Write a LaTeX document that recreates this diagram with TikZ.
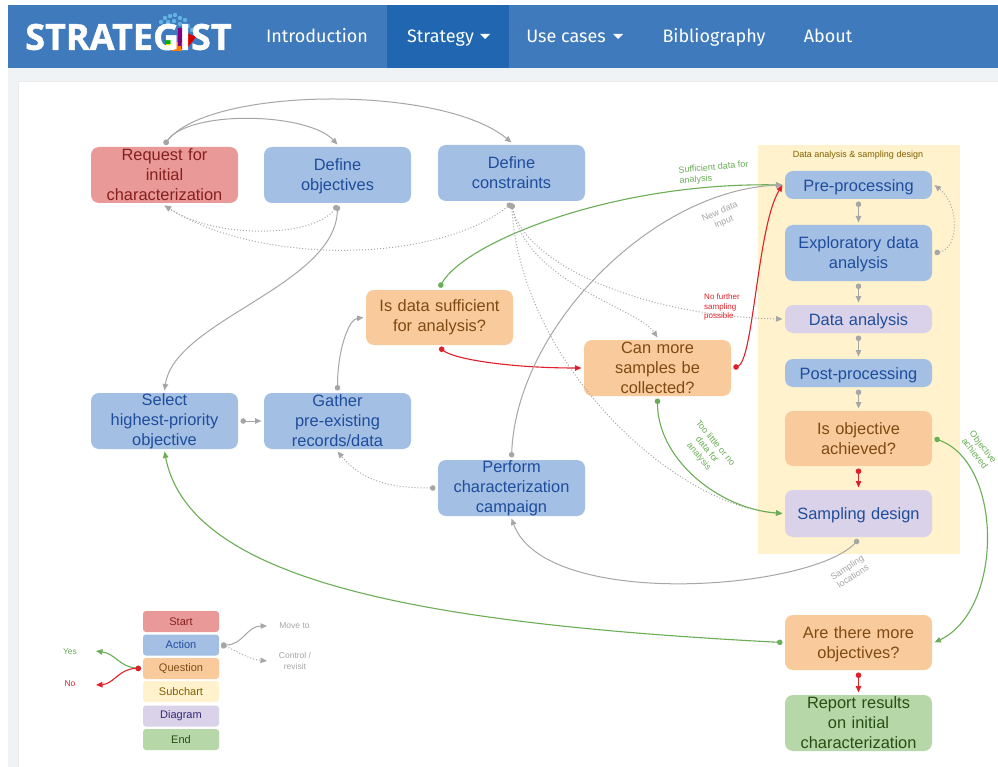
\documentclass[tikz,border=0pt]{standalone}
\usepackage{fontspec}
\setmainfont{Liberation Sans}
\newfontfamily\navfont{Fira Sans}
\newfontfamily\logofont[BoldFeatures={FakeBold=1.2}]{Open Sans}
\usetikzlibrary{arrows.meta,calc}
\definecolor{navblue}{HTML}{3F7ABD}
\definecolor{navdark}{HTML}{2066B1}
\definecolor{pagebg}{HTML}{F0F3F5}
\definecolor{redfill}{HTML}{EA9999}
\definecolor{bluefill}{HTML}{A4BFE4}
\definecolor{orangefill}{HTML}{F9CB9C}
\definecolor{yellowfill}{HTML}{FFF2CC}
\definecolor{purplefill}{HTML}{D9D2E9}
\definecolor{greenfill}{HTML}{B6D7A8}
\definecolor{redtext}{HTML}{85201F}
\definecolor{bluetext}{HTML}{1F4D9B}
\definecolor{orangetext}{HTML}{7F4A12}
\definecolor{yellowtext}{HTML}{7F6000}
\definecolor{purpletext}{HTML}{352A73}
\definecolor{greentext}{HTML}{274E13}
\definecolor{lnkgray}{HTML}{A6A6A6}
\definecolor{lnkgreen}{HTML}{6AAE56}
\definecolor{lnkred}{HTML}{E0202A}
\newcommand\nudge{\rule{0pt}{15pt}}
\newcommand\nudgeb{\rule{0pt}{17pt}}
\tikzset{
  x=1pt,y=-1pt,
  box/.style={rounded corners=8pt,minimum width=147pt,align=center,font=\fontsize{16.4}{20}\selectfont,outer sep=2.5pt,inner sep=0pt,text width=145pt},
  startbox/.style={box,fill=redfill,text=redtext},
  actbox/.style={box,fill=bluefill,text=bluetext},
  askbox/.style={box,fill=orangefill,text=orangetext},
  diagbox/.style={box,fill=purplefill,text=bluetext},
  endbox/.style={box,fill=greenfill,text=greentext},
  legbox/.style={rounded corners=3pt,minimum width=76pt,minimum height=21pt,inner sep=0pt,outer sep=2pt,font=\fontsize{11}{12}\selectfont},
  tips/.style={{Circle[length=5.5pt,width=5.5pt]}-{Triangle[length=6.5pt,width=5.5pt]}},
  move/.style={draw=lnkgray,line width=1pt,tips,color=lnkgray},
  ctrl/.style={draw=lnkgray,line width=1pt,dotted,tips,color=lnkgray},
  yes/.style={draw=lnkgreen,line width=1.1pt,tips,color=lnkgreen},
  no/.style={draw=lnkred,line width=1.1pt,tips,color=lnkred},
  note/.style={font=\fontsize{8}{9.5}\selectfont,align=center,inner sep=0pt},
  notel/.style={note,font=\fontsize{9}{10.5}\selectfont},
  nav/.style={font=\navfont\fontsize{18}{20}\selectfont,text=white,inner sep=0pt,anchor=base},
}
\begin{document}
\begin{tikzpicture}
\useasboundingbox (0,0) rectangle (998,767);
\fill[white] (0,0) rectangle (998,767);
\fill[pagebg] (8,5) rectangle (998,767);
\fill[white] (18,81) rectangle (998,767);
\draw[black!8,line width=.6pt] (18,767) -- (18,81) -- (998,81);
% navbar
\fill[navblue] (8,5) rectangle (998,68);
\fill[navdark] (387,5) rectangle (509,68);
\foreach \px/\py in {161/22,165/18,170/16,175/15,180/18,185/20,168/22,174/21,180/24,188/26,163/27,192/30,170/27,184/29}{
  \fill[cyan!55!white,opacity=.65] (\px,\py) circle (2.2);}
\fill[green!70!black] (165,36) rectangle (176,47);
\fill[red!85!black] (187,33) -- (196,37) -- (188,47) -- cycle;
\fill[orange] (172,42) rectangle (182,51);
\fill[violet] (178,28) rectangle (187,46);
\fill[yellow!80!orange] (166,44) rectangle (174,50);
\fill[magenta!70!red] (181,43) rectangle (187,49);
\node[font=\logofont\bfseries\fontsize{36}{36}\selectfont,text=white,inner sep=0pt] (logo) at (128.5,37) {STRATEGIST};
\node[nav] (nintro) at (317,42.5) {Introduction};
\node[nav] (nstrat) at (440.5,42.5) {Strategy};
\fill[white] (480,34) -- (490,34) -- (485,39) -- cycle;
\node[nav] (nuse) at (566,42.5) {Use cases};
\fill[white] (613,34) -- (623,34) -- (618,39) -- cycle;
\node[nav] (nbib) at (714,42.5) {Bibliography};
\node[nav] (nabout) at (828,42.5) {About};
% subchart
\fill[yellowfill] (758,145) rectangle (960,554);
\node[note,text=yellowtext,font=\fontsize{9}{10}\selectfont] (subt) at (858,155) {Data analysis \& sampling design};
% nodes
\node[startbox,minimum height=56pt] (req) at (164.5,175) {Request for\\initial\\characterization};
\node[actbox,minimum height=56pt] (obj) at (337.5,175) {\nudge Define\\objectives};
\node[actbox,minimum height=56pt] (con) at (511.5,173) {Define\\constraints};
\node[askbox,minimum height=55pt] (suf) at (439.5,317.5) {Is data sufficient\\for analysis?};
\node[askbox,minimum height=56pt] (can) at (657.5,368) {Can more\\samples be\\collected?};
\node[actbox,minimum height=56pt] (sel) at (164.5,421) {Select\\highest-priority\\objective};
\node[actbox,minimum height=56pt] (gat) at (337.5,421) {Gather\\pre-existing\\records/data};
\node[actbox,minimum height=56pt] (per) at (511.5,488) {Perform\\characterization\\campaign};
\node[actbox,minimum height=28pt] (pre) at (858.5,185) {\nudgeb Pre-processing};
\node[actbox,minimum height=56pt] (eda) at (858.5,253) {\nudge Exploratory data\\analysis};
\node[diagbox,minimum height=28pt] (dat) at (858.5,319) {\nudgeb Data analysis};
\node[actbox,minimum height=28pt] (pos) at (858.5,373) {\nudgeb Post-processing};
\node[askbox,minimum height=55pt] (ach) at (858.5,438.5) {Is objective\\achieved?};
\node[diagbox,minimum height=47pt] (sam) at (858.5,513.5) {\nudge Sampling design};
\node[askbox,minimum height=55pt] (mor) at (858.5,642.5) {\nudge Are there more\\objectives?};
\node[endbox,minimum height=56pt] (rep) at (858.5,723) {Report results\\on initial\\characterization};
% connectors
\draw[move] (req.north) .. controls +(25,-35) and +(-30,-32) .. (obj.north);
\draw[move] (req.north) .. controls +(45,-58) and +(-70,-58) .. (con.north);
\draw[ctrl] (obj.south) .. controls +(-25,33) and +(50,33) .. (req.south);
\draw[ctrl] (con.south) .. controls +(-75,60) and +(95,60) .. (req.south);
\draw[move] (obj.south) .. controls +(-2,80) and +(10,-70) .. (sel.north);
\draw[move] (sel.east) -- (gat.west);
\draw[move] (gat.north) .. controls +(0,-40) and +(-15,2) .. (suf.west);
\draw[ctrl] (per.west) .. controls +(-45,0) and +(25,30) .. (gat.south);
\draw[yes] (suf.north) .. controls +(25,-45) and +(-170,-3) .. (pre.west);
\draw[no] (suf.south) .. controls +(15,12) and +(-70,0) .. (can.west);
\draw[no] (can.east) .. controls +(20,-8) and +(-25,40) .. (pre.west);
\draw[move] (per.north) .. controls +(5,-130) and +(-130,5) .. (pre.west);
\draw[ctrl] (con.south) .. controls +(14,61) and +(-140,-3) .. (dat.west);
\draw[ctrl] (con.south) .. controls +(15,80) and +(-20,-30) .. (can.north);
\draw[ctrl] (con.south) .. controls +(10,160) and +(-110,-8) .. (sam.west);
\draw[yes] (can.south) .. controls +(0,60) and +(-65,-5) .. (sam.west);
\draw[move] (sam.south) .. controls +(-48,51) and +(34,92) .. (per.south);
\draw[yes] (ach.east) .. controls +(69,25) and +(69,-33) .. (mor.east);
\draw[yes] (mor.west) .. controls +(-343,-18) and +(26,134) .. (sel.south);
\draw[ctrl] (eda.east) .. controls +(25,-5) and +(25,20) .. (pre.east);
\draw[move] (pre.south) -- (eda.north);
\draw[move] (eda.south) -- (dat.north);
\draw[move] (dat.south) -- (pos.north);
\draw[move] (pos.south) -- (ach.north);
\draw[no] (ach.south) -- (sam.north);
\draw[no] (mor.south) -- (rep.north);
% labels
\node[notel,text=lnkgreen,rotate=5,align=left] (l1) at (714,173) {Sufficient data for\\analysis};
\node[notel,text=lnkgray,rotate=23] (l2) at (722,217) {New data\\input};
\node[note,text=lnkred,align=left] (l3) at (722,307) {No further\\sampling\\possible};
\node[notel,text=lnkgreen,rotate=-50] (l4) at (707,450) {Too little or no\\data for\\analysis};
\node[notel,text=lnkgreen,rotate=-52] (l5) at (979,450) {Objective\\achieved};
\node[notel,text=lnkgray,rotate=33] (l6) at (850,572) {Sampling\\locations};
% legend
\node[legbox,fill=redfill,text=redtext] (lstart) at (181,621.5) {Start};
\node[legbox,fill=bluefill,text=bluetext] (lact) at (181,645) {Action};
\node[legbox,fill=orangefill,text=orangetext] (lq) at (181,668.5) {Question};
\node[legbox,fill=yellowfill,text=yellowtext] (lsub) at (181,691.5) {Subchart};
\node[legbox,fill=purplefill,text=purpletext] (ldia) at (181,716) {Diagram};
\node[legbox,fill=greenfill,text=greentext] (lend) at (181,739.5) {End};
\node[note,text=lnkgray,font=\fontsize{8.5}{11}\selectfont] (lmove) at (294.5,626) {Move to};
\node[note,text=lnkgray,font=\fontsize{8.5}{11}\selectfont] (lctrl) at (295,661) {Control /\\revisit};
\node[note,text=lnkgreen,font=\fontsize{8.5}{11}\selectfont] (lyes) at (70,652) {Yes};
\node[note,text=lnkred,font=\fontsize{8.5}{11}\selectfont] (lno) at (70,684) {No};
\coordinate (mv) at (267,626);
\coordinate (ct) at (267,661);
\coordinate (ys) at (96,651);
\coordinate (nn) at (96,685);
\draw[move] (lact.east) .. controls +(22,0) and +(-20,0) .. (mv);
\draw[ctrl] (lact.east) .. controls +(15,5) and +(-20,-2) .. (ct);
\draw[yes] (lq.west) .. controls +(-22,-2) and +(20,3) .. (ys);
\draw[no] (lq.west) .. controls +(-22,0) and +(18,-1) .. (nn);
\end{tikzpicture}
\end{document}
